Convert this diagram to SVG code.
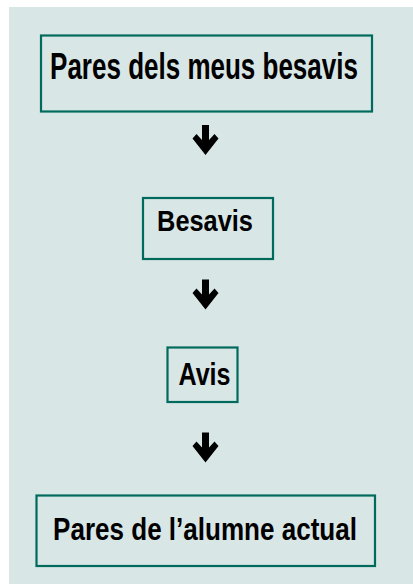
<svg xmlns="http://www.w3.org/2000/svg" width="413" height="584" viewBox="0 0 413 584">
<style>
.box{fill:none;stroke:#006b5c;stroke-width:2.2}
.t{font-family:"Liberation Sans",Arial,sans-serif;font-weight:bold;fill:#000;text-anchor:middle}
.arr{fill:#000}
</style>
<defs>
<path id="dn" d="M-3.5,0 L3.5,0 L3.5,15 L9,9 L13,13.5 L0,30 L-13,13.5 L-9,9 L-3.5,15 Z"/>
</defs>
<rect x="0" y="0" width="413" height="584" fill="#ffffff"/>
<rect x="9" y="7" width="404" height="577" fill="#d9e6e6"/>
<g id="node1">
<rect class="box" x="41" y="35.5" width="331" height="76"/>
<text class="t" transform="translate(204 79) scale(0.703 1)" x="0" y="0" font-size="37">Pares dels meus besavis</text>
</g>
<g id="node2">
<rect class="box" x="143" y="198" width="130" height="61"/>
<text class="t" transform="translate(205 231) scale(0.86 1)" x="0" y="0" font-size="29.5">Besavis</text>
</g>
<g id="node3">
<rect class="box" x="167.5" y="347.5" width="70" height="54.5"/>
<text class="t" transform="translate(204.5 385) scale(0.823 1)" x="0" y="0" font-size="30.5">Avis</text>
</g>
<g id="node4">
<rect class="box" x="36.5" y="495.5" width="338.5" height="70.5"/>
<text class="t" transform="translate(205 540) scale(0.814 1)" x="0" y="0" font-size="32">Pares de l’alumne actual</text>
</g>
<g id="connectors">
<use href="#dn" class="arr" x="205.5" y="125"/>
<use href="#dn" class="arr" x="205.5" y="279.5"/>
<use href="#dn" class="arr" x="205.5" y="432.5"/>
</g>
</svg>
